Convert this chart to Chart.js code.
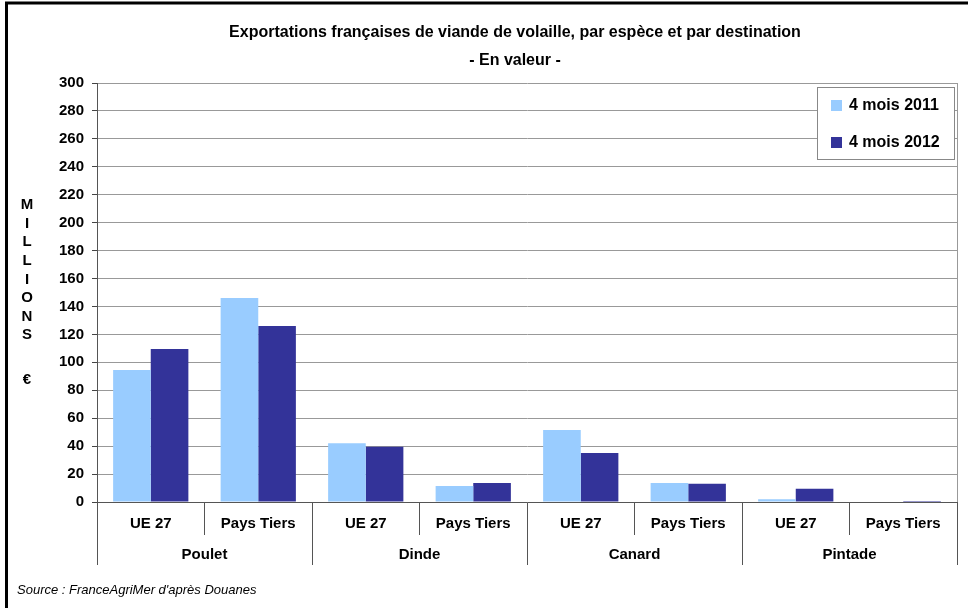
<!DOCTYPE html>
<html>
<head>
<meta charset="utf-8">
<script src="https://cdn.jsdelivr.net/npm/chart.js@4.4.1/dist/chart.umd.min.js"></script>
<style>
html,body{margin:0;padding:0;background:#fff;}
#wrap{width:968px;height:608px;position:relative;}
</style>
</head>
<body>
<div id="wrap"><canvas id="exportChart" width="968" height="608"></canvas></div>
<script>
// data
const categories = ['UE 27','Pays Tiers','UE 27','Pays Tiers','UE 27','Pays Tiers','UE 27','Pays Tiers'];
const groups = ['Poulet','Dinde','Canard','Pintade'];
const seriesNames = ['4 mois 2011','4 mois 2012'];
const values2011 = [94.5, 146, 42, 11.5, 51.5, 13.6, 2, 0];
const values2012 = [109.5, 126, 39.5, 13.6, 35, 13, 9.5, 0.7];
const yMin = 0, yMax = 300, yStep = 20;

const titleText = 'Exportations françaises de viande de volaille, par espèce et par destination';
const subtitleText = '- En valeur -';
const yTitleLetters = ['M','I','L','L','I','O','N','S'];
const yTitleUnit = '€';
const sourceText = "Source : FranceAgriMer d'après Douanes";

const FONT = "'Liberation Sans', Arial, sans-serif";
const colors = ['#99CCFF','#333399'];

const decorPlugin = {
    id:'decor',
    beforeDatasetsDraw(chart){
        const ctx=chart.ctx, a=chart.chartArea;
        ctx.save();
        // right edge of plot area
        ctx.strokeStyle='#999';
        ctx.lineWidth=1;
        ctx.beginPath();
        ctx.moveTo(Math.round(a.right)+0.5,a.top);
        ctx.lineTo(Math.round(a.right)+0.5,a.bottom);
        ctx.stroke();
        ctx.restore();
    },
    afterDraw(chart){
        const ctx=chart.ctx;
        ctx.save();
        // outer frame (only left and top visible)
        ctx.strokeStyle='#000';
        ctx.lineWidth=3;
        ctx.beginPath();
        ctx.moveTo(6.5,700);
        ctx.lineTo(6.5,3);
        ctx.lineTo(1000,3);
        ctx.stroke();

        // titles
        ctx.fillStyle='#000';
        ctx.textAlign='center';
        ctx.textBaseline='middle';
        ctx.font='bold 16px '+FONT;
        ctx.fillText(titleText,515,33);
        ctx.fillText(subtitleText,515,61);

        // vertical axis title
        ctx.font='bold 15px '+FONT;
        yTitleLetters.forEach((l,i)=>ctx.fillText(l,27,205+i*18.6));
        ctx.fillText(yTitleUnit,27,380);

        // legend box
        ctx.fillStyle='#fff';
        ctx.fillRect(817,87,137,72);
        ctx.strokeStyle='#888';
        ctx.lineWidth=1;
        ctx.strokeRect(817.5,87.5,137,72);
        ctx.textAlign='left';
        ctx.font='bold 16px '+FONT;
        chart.data.datasets.forEach((ds,i)=>{
            const y=106+i*37;
            ctx.fillStyle=ds.backgroundColor;
            ctx.fillRect(831,y-6,11,11);
            ctx.fillStyle='#000';
            ctx.fillText(ds.label,849,y);
        });

        // source
        ctx.font='italic 13px '+FONT;
        ctx.fillText(sourceText,17,590);
        ctx.restore();
    }
};

new Chart(document.getElementById('exportChart'),{
    type:'bar',
    data:{
        labels:categories,
        datasets:[
            {label:seriesNames[0],data:values2011,backgroundColor:colors[0],xAxisID:'x'},
            {label:seriesNames[1],data:values2012,backgroundColor:colors[1],xAxisID:'x'}
        ]
    },
    options:{
        responsive:false,
        animation:false,
        devicePixelRatio:1,
        categoryPercentage:0.7,
        barPercentage:1.0,
        layout:{padding:{top:83,right:11,bottom:43,left:0}},
        plugins:{
            legend:{display:false},
            tooltip:{enabled:false},
            title:{display:false}
        },
        scales:{
            y:{
                min:yMin,max:yMax,
                ticks:{stepSize:yStep,color:'#000',padding:8,font:{family:FONT,size:15,weight:'bold'}},
                grid:{color:'#999',tickColor:'#444',tickLength:5},
                border:{color:'#555'},
                afterFit(s){ s.width=97; }
            },
            x:{
                type:'category',
                labels:categories,
                offset:true,
                weight:0,
                grid:{offset:true,drawOnChartArea:false,tickLength:33,color:'#555'},
                border:{color:'#555'},
                ticks:{color:'#000',padding:-20,maxRotation:0,autoSkip:false,font:{family:FONT,size:15,weight:'bold'}},
                afterFit(s){ s.height=33; }
            },
            x2:{
                type:'category',
                labels:groups,
                position:'bottom',
                offset:true,
                weight:1,
                grid:{offset:true,drawOnChartArea:false,tickLength:30,color:'#555'},
                border:{display:false},
                ticks:{color:'#000',padding:-19,maxRotation:0,autoSkip:false,font:{family:FONT,size:15,weight:'bold'}},
                afterFit(s){ s.height=30; }
            }
        }
    },
    plugins:[decorPlugin]
});
</script>
</body>
</html>
